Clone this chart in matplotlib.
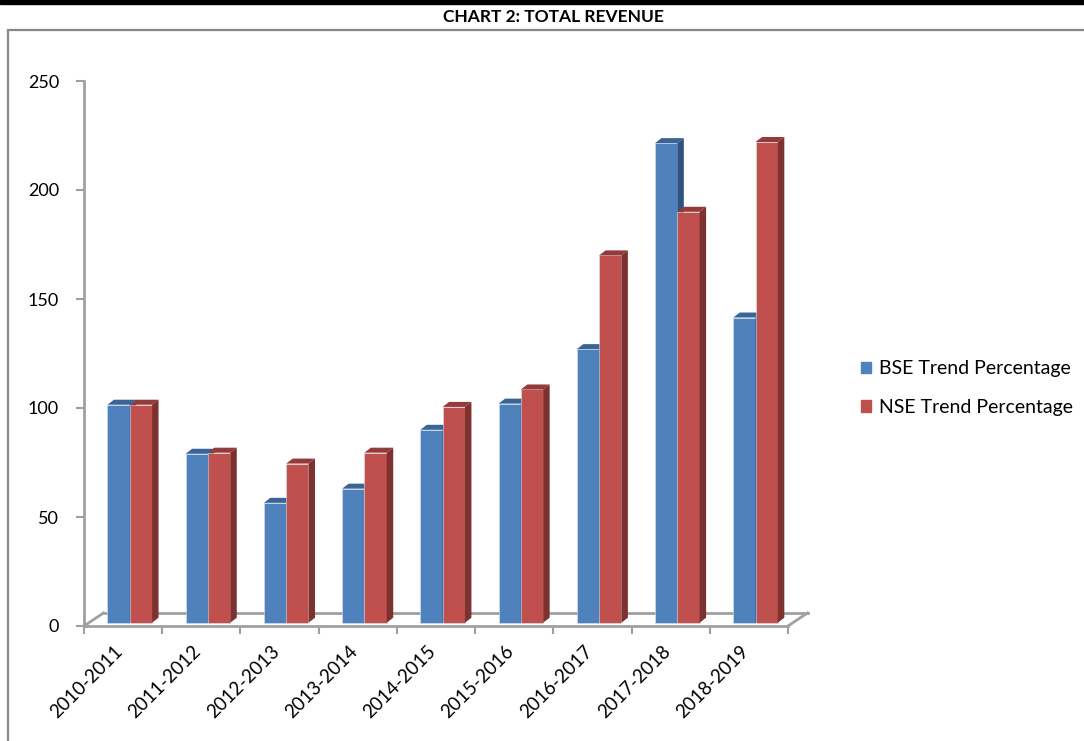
import matplotlib.pyplot as plt
from matplotlib.patches import Polygon, Rectangle
from matplotlib.lines import Line2D
from matplotlib.transforms import ScaledTranslation

plt.rcParams['font.family'] = ['Lato', 'DejaVu Sans']

years = ['2010-2011', '2011-2012', '2012-2013', '2013-2014', '2014-2015',
         '2015-2016', '2016-2017', '2017-2018', '2018-2019']
bse = [100, 77.5, 55, 61.5, 88.5, 100.5, 125.5, 220, 140]
nse = [100, 78, 73, 78, 99, 107, 168.5, 188.5, 220.5]

blue = ('#4F81BD', '#3A6396', '#2E5283')   # front, top, side
red = ('#C0504D', '#933B39', '#7D3230')

W, H = 1084, 741
fig = plt.figure(figsize=(W / 100, H / 100), dpi=100)

# page decorations: black band and chart frame
fig.patches.append(Rectangle((0, 1 - 4 / H), 1, 4 / H, transform=fig.transFigure,
                             color='black', zorder=0))
fig.patches.append(Rectangle((8 / W, -0.1), 1.2, 1.1 - 30 / H, transform=fig.transFigure,
                             fill=False, edgecolor='#888888', lw=1.6, zorder=0))
fig.text(553 / W, 1 - 17 / H, 'CHART 2: TOTAL REVENUE', ha='center', va='center',
         fontsize=12.5, fontweight='bold')

ax = fig.add_axes([84 / W, (H - 626) / H, 704 / W, 545 / H])
ax.set_xlim(0, len(years))
ax.set_ylim(0, 250)

# 3d-ish offsets (category units / value units)
fx, fy = 0.25, 6.0      # floor depth
bx, by = 0.083, 2.3     # bar depth
base = 1.5
bw = 0.285


def bar3d(x0, h, cols, z):
    y0, y1 = base, base + h
    ax.add_patch(Rectangle((x0, y0), bw, h, facecolor=cols[0], edgecolor='#dde6f0',
                           lw=0.4, zorder=z))
    ax.add_patch(Polygon([(x0, y1), (x0 + bw, y1), (x0 + bw + bx, y1 + by), (x0 + bx, y1 + by)],
                         closed=True, facecolor=cols[1], edgecolor='none', zorder=z,
                         clip_on=False))
    ax.add_patch(Polygon([(x0 + bw, y0), (x0 + bw + bx, y0 + by), (x0 + bw + bx, y1 + by), (x0 + bw, y1)],
                         closed=True, facecolor=cols[2], edgecolor='none', zorder=z,
                         clip_on=False))


for i in range(len(years)):
    bar3d(i + 0.30, bse[i], blue, 3 + 2 * i)
    bar3d(i + 0.30 + bw, nse[i], red, 4 + 2 * i)

# floor outline
gray = '#A0A0A0'
n = len(years)
for xs, ys in [([0, fx], [0, fy]), ([fx, n + fx], [fy, fy]), ([n, n + fx], [0, fy])]:
    ax.add_line(Line2D(xs, ys, color=gray, lw=2, zorder=1, clip_on=False))

for s in ['top', 'right']:
    ax.spines[s].set_visible(False)
for s in ['left', 'bottom']:
    ax.spines[s].set_color(gray)
    ax.spines[s].set_linewidth(2)

ax.set_yticks(range(0, 251, 50))
ax.tick_params(axis='y', length=6, width=1.5, color=gray, labelsize=13, pad=12)
ax.set_xticks(range(n + 1))
ax.set_xticklabels([])
ax.set_xticks([i + 0.5 for i in range(n)], minor=True)
ax.set_xticklabels(years, minor=True, rotation=45, ha='right', va='top',
                   rotation_mode='anchor', fontsize=13.5)
ax.tick_params(axis='x', which='major', length=6, width=1.5, color=gray)
ax.tick_params(axis='x', which='minor', length=0, pad=12)
shift = ScaledTranslation(-9 / 100, 0, fig.dpi_scale_trans)
for lab in ax.get_xticklabels(minor=True):
    lab.set_transform(lab.get_transform() + shift)

# legend
handles = [Rectangle((0, 0), 1, 1, color=blue[0]), Rectangle((0, 0), 1, 1, color=red[0])]
fig.legend(handles, ['BSE Trend Percentage', 'NSE Trend Percentage'],
           loc='center left', bbox_to_anchor=(843 / W, 1 - 388 / H), frameon=False,
           fontsize=14, handlelength=0.55, handleheight=0.55, handletextpad=0.4,
           labelspacing=1.1)

fig.savefig('out.png', dpi=100)
